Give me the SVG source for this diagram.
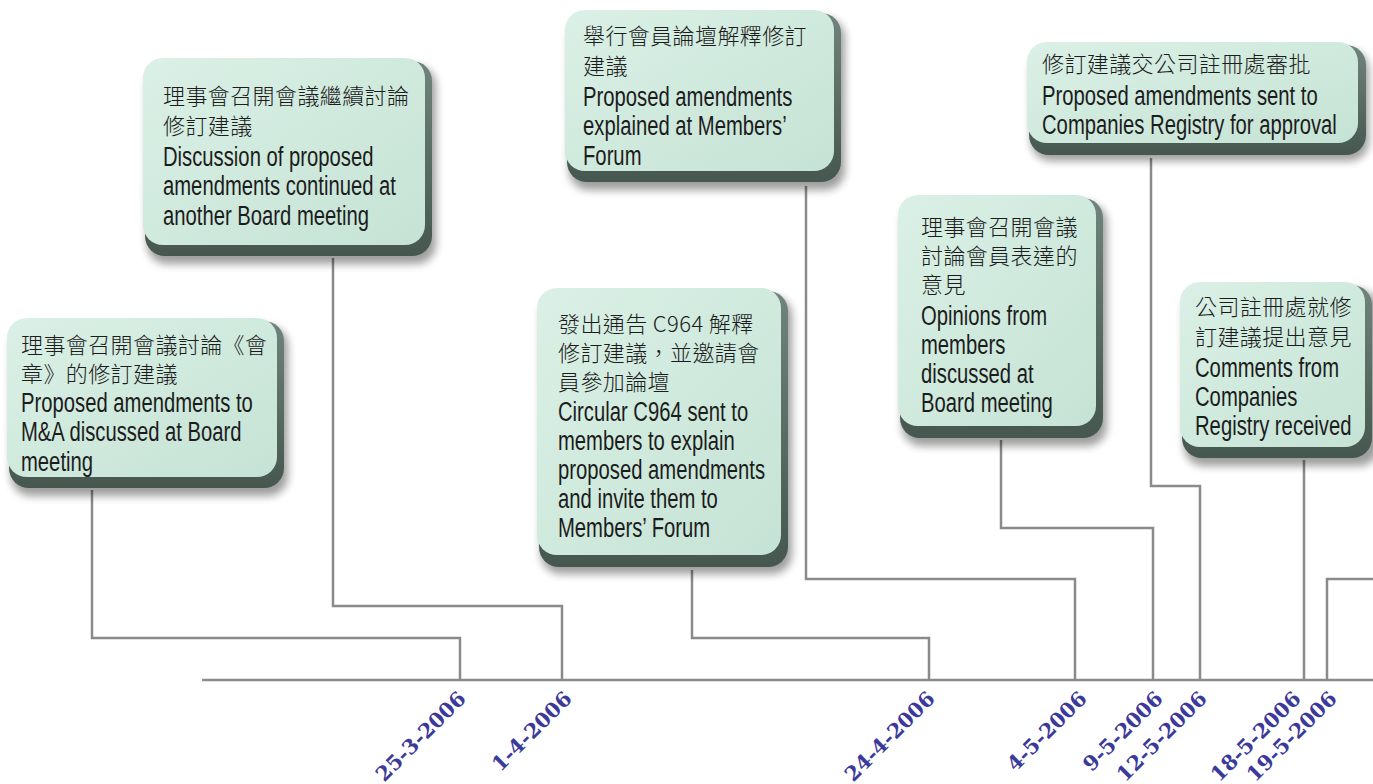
<svg xmlns="http://www.w3.org/2000/svg" width="1373" height="784" viewBox="0 0 1373 784">
<style>
.shadow{fill:#000;opacity:.38;filter:url(#blur)}
.rim{fill:url(#rimg)}
.face{fill:url(#faceg)}
.cjk{font-family:"Noto Sans CJK TC","Noto Sans CJK SC",sans-serif;font-weight:300;font-size:22px;letter-spacing:0.4px;fill:#1c1c1c}
.en{font-family:"Liberation Sans",Arial,sans-serif;font-size:27px;fill:#1c1c1c}
.conn{fill:none;stroke:#8a8a8a;stroke-width:2.5}
.date{font-family:"DejaVu Serif","Liberation Serif",serif;font-weight:bold;font-size:20.5px;fill:#3b3a9a;text-anchor:end}
</style>
<defs>
<linearGradient id="faceg" x1="0" y1="0" x2="1" y2="1">
<stop offset="0" stop-color="#dbf0e6"/>
<stop offset="1" stop-color="#c5e3d5"/>
</linearGradient>
<linearGradient id="rimg" x1="0" y1="0" x2="0" y2="1">
<stop offset="0" stop-color="#6f847c"/>
<stop offset="1" stop-color="#45574f"/>
</linearGradient>
<filter id="blur" x="-20%" y="-20%" width="140%" height="150%">
<feGaussianBlur stdDeviation="4"/>
</filter>
</defs>

<g id="connectors">
<path class="conn" d="M202,680 H1373"/>
<path class="conn" d="M92,490 V638 H460 V680"/>
<path class="conn" d="M333,258 V606 H562 V680"/>
<path class="conn" d="M692,570 V638 H929 V680"/>
<path class="conn" d="M806,186 V579 H1075 V680"/>
<path class="conn" d="M1001,440 V528 H1153 V680"/>
<path class="conn" d="M1151,158 V486 H1200 V680"/>
<path class="conn" d="M1304,460 V680"/>
<path class="conn" d="M1373,579 H1327 V680"/>
</g>

<g id="box-a">
<rect class="shadow" x="11" y="326" width="277" height="170" rx="20"/>
<rect class="rim" x="9" y="321" width="275" height="167" rx="20"/>
<rect class="face" x="7" y="318" width="270" height="159" rx="20"/>
<text class="cjk" x="21" y="353">理事會召開會議討論《會</text>
<text class="cjk" x="21" y="382">章》的修訂建議</text>
<text class="en" transform="translate(21,412) scale(0.75,1)"><tspan x="0" y="0">Proposed amendments to</tspan><tspan x="0" y="29.5">M&amp;A discussed at Board</tspan><tspan x="0" y="59">meeting</tspan></text>
</g>

<g id="box-b">
<rect class="shadow" x="147" y="66" width="289" height="198" rx="20"/>
<rect class="rim" x="145" y="61" width="287" height="195" rx="20"/>
<rect class="face" x="143" y="58" width="282" height="187" rx="20"/>
<text class="cjk" x="163" y="104">理事會召開會議繼續討論</text>
<text class="cjk" x="163" y="134">修訂建議</text>
<text class="en" transform="translate(163,166) scale(0.75,1)"><tspan x="0" y="0">Discussion of proposed</tspan><tspan x="0" y="29.5">amendments continued at</tspan><tspan x="0" y="59">another Board meeting</tspan></text>
</g>

<g id="box-c">
<rect class="shadow" x="569" y="18" width="276" height="172" rx="20"/>
<rect class="rim" x="567" y="13" width="274" height="169" rx="20"/>
<rect class="face" x="565" y="10" width="269" height="161" rx="20"/>
<text class="cjk" x="583" y="44">舉行會員論壇解釋修訂</text>
<text class="cjk" x="583" y="74">建議</text>
<text class="en" transform="translate(583,106) scale(0.75,1)"><tspan x="0" y="0">Proposed amendments</tspan><tspan x="0" y="29.5">explained at Members’</tspan><tspan x="0" y="59">Forum</tspan></text>
</g>

<g id="box-d">
<rect class="shadow" x="541" y="296" width="251" height="278" rx="20"/>
<rect class="rim" x="539" y="291" width="249" height="276" rx="20"/>
<rect class="face" x="537" y="288" width="244" height="267" rx="20"/>
<text class="cjk" x="558" y="332">發出通告 C964 解釋</text>
<text class="cjk" x="558" y="361">修訂建議，並邀請會</text>
<text class="cjk" x="558" y="390">員參加論壇</text>
<text class="en" transform="translate(558,421) scale(0.75,1)"><tspan x="0" y="0">Circular C964 sent to</tspan><tspan x="0" y="29">members to explain</tspan><tspan x="0" y="58">proposed amendments</tspan><tspan x="0" y="87">and invite them to</tspan><tspan x="0" y="116">Members’ Forum</tspan></text>
</g>

<g id="box-e">
<rect class="shadow" x="902" y="203" width="205" height="243" rx="20"/>
<rect class="rim" x="900" y="198" width="203" height="240" rx="20"/>
<rect class="face" x="898" y="195" width="198" height="231" rx="20"/>
<text class="cjk" x="921" y="235">理事會召開會議</text>
<text class="cjk" x="921" y="264">討論會員表達的</text>
<text class="cjk" x="921" y="293">意見</text>
<text class="en" transform="translate(921,325) scale(0.75,1)"><tspan x="0" y="0">Opinions from</tspan><tspan x="0" y="29">members</tspan><tspan x="0" y="58">discussed at</tspan><tspan x="0" y="87">Board meeting</tspan></text>
</g>

<g id="box-f">
<rect class="shadow" x="1031" y="50" width="338" height="111" rx="20"/>
<rect class="rim" x="1029" y="45" width="337" height="110" rx="20"/>
<rect class="face" x="1027" y="42" width="331" height="101" rx="20"/>
<text class="cjk" x="1042" y="72">修訂建議交公司註冊處審批</text>
<text class="en" transform="translate(1042,105) scale(0.75,1)"><tspan x="0" y="0">Proposed amendments sent to</tspan><tspan x="0" y="29.5">Companies Registry for approval</tspan></text>
</g>

<g id="box-g">
<rect class="shadow" x="1184" y="290" width="195" height="176" rx="20"/>
<rect class="rim" x="1182" y="285" width="190" height="173" rx="20"/>
<rect class="face" x="1180" y="282" width="185" height="165" rx="20"/>
<text class="cjk" x="1195" y="315">公司註冊處就修</text>
<text class="cjk" x="1195" y="345">訂建議提出意見</text>
<text class="en" transform="translate(1195,377) scale(0.75,1)"><tspan x="0" y="0">Comments from</tspan><tspan x="0" y="29">Companies</tspan><tspan x="0" y="58">Registry received</tspan></text>
</g>

<g id="dates">
<text class="date" transform="translate(467,700) rotate(-45)">25-3-2006</text>
<text class="date" transform="translate(573,700) rotate(-45)">1-4-2006</text>
<text class="date" transform="translate(936,700) rotate(-45)">24-4-2006</text>
<text class="date" transform="translate(1088,700) rotate(-45)">4-5-2006</text>
<text class="date" transform="translate(1164,700) rotate(-45)">9-5-2006</text>
<text class="date" transform="translate(1208,700) rotate(-45)">12-5-2006</text>
<text class="date" transform="translate(1302,700) rotate(-45)">18-5-2006</text>
<text class="date" transform="translate(1338,700) rotate(-45)">19-5-2006</text>
</g>
</svg>
